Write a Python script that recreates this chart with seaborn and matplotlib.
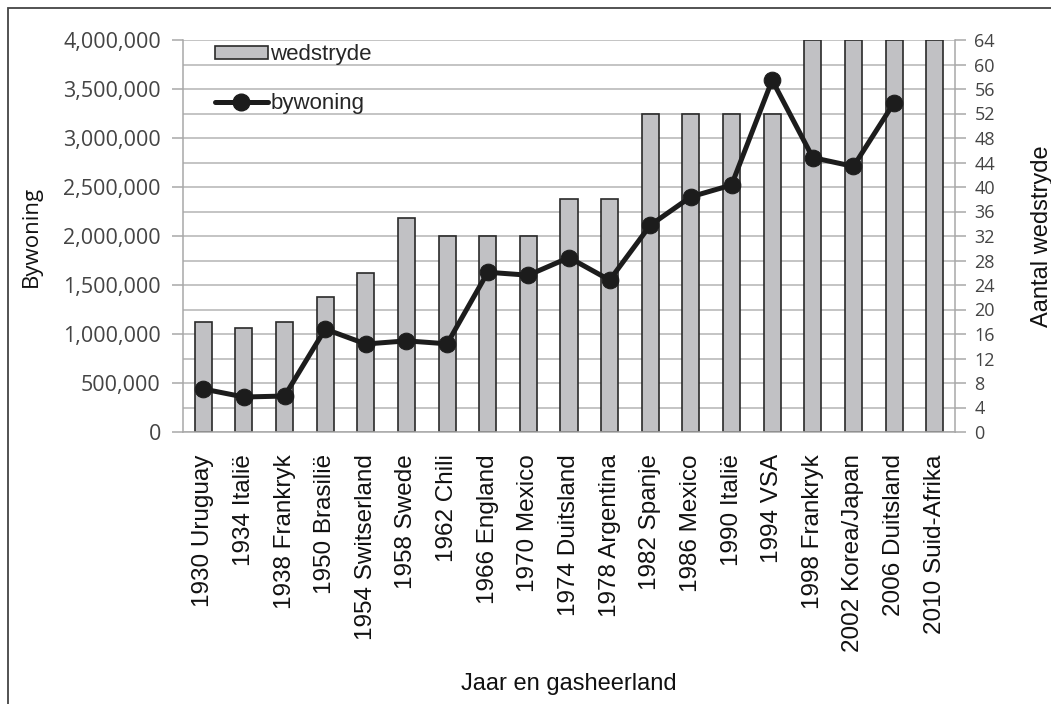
import matplotlib
matplotlib.use("Agg")
import matplotlib.pyplot as plt
import seaborn as sns
import pandas as pd
import numpy as np
from matplotlib.patches import Rectangle, Patch
from matplotlib.lines import Line2D
from matplotlib.ticker import FuncFormatter, FixedLocator

# Data
toernooie = ["1930 Uruguay", "1934 Italië", "1938 Frankryk", "1950 Brasilië",
             "1954 Switserland", "1958 Swede", "1962 Chili", "1966 England",
             "1970 Mexico", "1974 Duitsland", "1978 Argentina", "1982 Spanje",
             "1986 Mexico", "1990 Italië", "1994 VSA", "1998 Frankryk",
             "2002 Korea/Japan", "2006 Duitsland", "2010 Suid-Afrika"]
wedstryde = [18, 17, 18, 22, 26, 35, 32, 32, 32, 38, 38, 52, 52, 52, 52, 64, 64, 64, 64]
bywoning = [439000, 357000, 367000, 1050000, 898000, 930000, 900000, 1630000,
            1600000, 1780000, 1550000, 2110000, 2400000, 2520000, 3590000,
            2800000, 2710000, 3360000, np.nan]

df = pd.DataFrame({"toernooi": toernooie, "pos": np.arange(len(toernooie)),
                   "wedstryde": wedstryde, "bywoning": bywoning})

sns.set_style("white")
plt.rcParams["font.family"] = ["Liberation Sans", "DejaVu Sans"]

fig = plt.figure(figsize=(10.51, 7.04), dpi=100)
ax = fig.add_axes([183 / 1051, 1 - 432 / 704, 772 / 1051, 392 / 704])
ax2 = ax.twinx()

# Staafgrafiek op die hoofas (regterskaal)
sns.barplot(data=df, x="toernooi", y="wedstryde", ax=ax, color="#c1c1c4",
            saturation=1, width=0.42, edgecolor="#2a2a2a", linewidth=1.2, zorder=2)
ax.yaxis.tick_right()
ax.yaxis.set_label_position("right")
ax.set_ylim(0, 64)
ax.set_yticks(range(0, 65, 4))
ax.set_xlim(-0.5, len(toernooie) - 0.5)
ax.grid(axis="y", color="#b4b4b4", linewidth=1.1, zorder=0)
ax.set_axisbelow(True)
ax.set_ylabel("Aantal wedstryde", fontsize=17, color="#111111")
ax.yaxis.set_label_coords(1.098, 0.5)
ax.set_xlabel("Jaar en gasheerland", fontsize=17, color="#111111")
ax.xaxis.set_label_coords(0.5, -0.615)

ax.set_xticks(range(len(toernooie)))
ax.set_xticklabels(toernooie, rotation=90, fontsize=17.5)
ax.xaxis.set_minor_locator(FixedLocator(np.arange(-0.5, len(toernooie), 1.0)))
ax.tick_params(axis="x", which="major", length=0, pad=16, labelcolor="#111111")
ax.tick_params(axis="x", which="minor", length=9, width=1.1, color="#a8a8a8", direction="out")
ax.tick_params(axis="y", which="major", left=False, right=True, labelleft=False,
               labelright=True, length=8, width=1.1, color="#a8a8a8",
               labelsize=13, labelcolor="#444444", pad=6)
for lab in ax.get_yticklabels():
    lab.set_fontfamily(["Open Sans", "DejaVu Sans"])

for side in ["left", "right", "bottom"]:
    ax.spines[side].set_color("#a8a8a8")
    ax.spines[side].set_linewidth(1.1)
ax.spines["top"].set_visible(False)

# Lyngrafiek op die tweede as (linkerskaal)
sns.lineplot(data=df, x="pos", y="bywoning", ax=ax2, color="#1c1c1c", linewidth=3.6,
             marker="o", markersize=12, markeredgecolor="#1c1c1c", zorder=3)
ax2.yaxis.tick_left()
ax2.yaxis.set_label_position("left")
ax2.set_ylim(0, 4000000)
ax2.set_yticks(range(0, 4000001, 500000))
ax2.yaxis.set_major_formatter(FuncFormatter(lambda v, p: f"{int(v):,}"))
ax2.tick_params(axis="y", left=True, right=False, labelleft=True, labelright=False,
                length=8, width=1.1, color="#a8a8a8", labelsize=15.5,
                labelcolor="#444444", pad=8)
for lab in ax2.get_yticklabels():
    lab.set_fontfamily(["Open Sans", "DejaVu Sans"])
ax2.set_ylabel("Bywoning", fontsize=16, color="#111111",
               fontfamily=["Open Sans", "DejaVu Sans"])
ax2.yaxis.set_label_coords(-0.183, 0.5)
ax2.set_xlabel("")
ax2.set_xlim(-0.5, len(toernooie) - 0.5)
for s in ax2.spines.values():
    s.set_visible(False)

# Legende
handles = [Patch(facecolor="#c1c1c4", edgecolor="#2a2a2a", linewidth=1.2),
           Line2D([], [], color="#1c1c1c", linewidth=3.6, marker="o", markersize=12)]
leg = ax2.legend(handles, ["wedstryde", "bywoning"], loc="upper left",
                 bbox_to_anchor=(0.015, 1.04), frameon=False, fontsize=16,
                 handlelength=2.4, handleheight=0.55, handletextpad=0.1,
                 labelspacing=1.25)

# Buitenste raam
fig.patches.append(Rectangle((8 / 1051, -0.02), 1.1, 1 - 8 / 704 + 0.02,
                             transform=fig.transFigure, fill=False,
                             edgecolor="#444444", linewidth=1.3))

fig.savefig("out.png", dpi=100)
